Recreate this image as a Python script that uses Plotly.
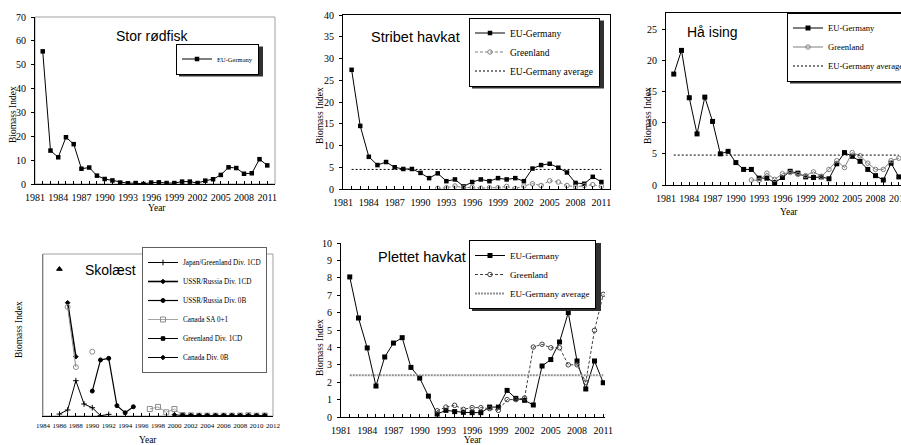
import plotly.graph_objects as go

W, H = 901, 445
SERIF = "Liberation Serif"
SANS = "Liberation Sans"

# ---------------- data ----------------
years = list(range(1982, 2012))
gl_years = list(range(1992, 2012))
avg_years = [1982, 2011]

stor_eu = [55.6, 14.0, 11.2, 19.6, 16.7, 6.4, 6.9, 3.5, 2.1, 1.5, 0.6, 0.3, 0.4, 0.0, 0.6,
           0.7, 0.4, 0.4, 1.0, 1.0, 0.4, 1.4, 2.0, 3.8, 7.0, 6.7, 4.3, 4.5, 10.4, 7.8]

strib_eu = [27.4, 14.5, 7.4, 5.5, 6.2, 5.0, 4.6, 4.6, 3.7, 2.5, 3.6, 1.8, 2.2, 0.6, 1.6,
            2.2, 1.8, 2.5, 2.2, 2.5, 1.8, 4.7, 5.5, 5.8, 4.9, 3.8, 1.4, 1.2, 2.8, 1.6]
strib_gl = [0.15, 0.3, 0.7, 0.3, 0.4, 0.2, 0.3, 0.3, 0.6, 0.1, 0.7, 1.2, 0.8, 1.9, 1.6,
            0.8, 0.5, 0.8, 1.0, 0.6]
strib_avg = 4.5

haa_eu = [17.8, 21.6, 14.0, 8.2, 14.1, 10.2, 5.0, 5.4, 3.6, 2.5, 2.5, 1.1, 1.1, 0.4, 1.2,
          2.2, 1.9, 1.3, 1.2, 1.3, 1.0, 3.4, 5.2, 4.6, 3.8, 2.5, 1.5, 0.8, 3.5, 1.3]
haa_gl = [0.8, 0.75, 1.9, 0.9, 1.8, 2.0, 1.7, 1.5, 2.1, 1.4, 2.5, 3.9, 2.8, 5.2, 4.7,
          3.5, 2.5, 2.5, 3.9, 4.3]
haa_avg = 4.8

plet_eu = [8.05, 5.69, 3.97, 1.78, 3.45, 4.25, 4.56, 2.85, 2.24, 1.2, 0.17, 0.38, 0.31, 0.27,
           0.25, 0.25, 0.57, 0.57, 1.53, 1.07, 0.96, 0.69, 2.93, 3.3, 4.31, 6.0, 3.22, 1.61,
           3.22, 1.97]
plet_gl = [0.36, 0.57, 0.67, 0.44, 0.54, 0.54, 0.48, 0.38, 1.0, 1.0, 1.09, 4.02, 4.18, 3.98,
           3.98, 3.0, 3.0, 2.0, 4.98, 7.05]
plet_avg = 2.4

# Skolæst (relative index, no scale shown)
sk_jg_years = [1986, 1987, 1988, 1989, 1990, 1991, 1992]
sk_jg = [1.2, 3.7, 21.8, 7.4, 5.1, 0.2, 1.0]
sk_ur1_years = [1987, 1988]
sk_ur1 = [69.9, 36.6]
sk_ur0_years = [1990, 1991, 1992, 1993, 1994, 1995]
sk_ur0 = [15.4, 34.6, 35.6, 6.4, 2.0, 5.7]
sk_ca_years = list(range(1997, 2012))
sk_ca = [4.3, 5.6, 2.3, 4.3, 0.6, 0.4, 0.2, 0.2, 0.2, 0.2, 0.2, 0.3, 0.5, 0.2, 0.3]
sk_gr_years = list(range(2001, 2012))
sk_gr = [0.3, 0.1, 0.1, 0.1, 0.1, 0.1, 0.1, 0.1, 0.1, 0.1, 0.1]
sk_c0_years = list(range(2000, 2012))
sk_c0 = [0.8, 0.2, 0.1, 0.1, 0.1, 0.1, 0.1, 0.1, 0.1, 0.1, 0.1, 0.1]
sk_circ_years = [1987, 1988, 1989, 1990]
sk_circ = [67.3, 30.2, None, 39.7]
sk_tri_years = [1986]
sk_tri = [90.7]

# ---------------- layout helpers ----------------
def dx(l, r):
    return [l / W, min(r / W, 1.0)]

def dy(t, b):
    return [1 - b / H, 1 - t / H]

def xax(dom, rng, anchor, tick0, dtick, mirror=False, size=10, standoff=4):
    return dict(domain=dom, range=rng, anchor=anchor, tick0=tick0, dtick=dtick,
                ticks="inside", ticklen=3, tickcolor="black", showline=True,
                linecolor="black", linewidth=1, mirror=mirror, showgrid=False,
                zeroline=False, tickangle=0,
                minor=dict(dtick=1, tick0=tick0, ticks="inside", ticklen=3, tickcolor="black"),
                tickfont=dict(family=SERIF, size=size, color="black"),
                ticklabelstandoff=standoff)

def yax(dom, rng, anchor, dtick, mirror=False, labels=True):
    return dict(domain=dom, range=rng, anchor=anchor, dtick=dtick, tick0=0,
                ticks="outside" if labels else "", ticklen=3, tickcolor="black",
                showline=True, linecolor="black", linewidth=1, mirror=mirror,
                showgrid=False, zeroline=False, showticklabels=labels,
                tickfont=dict(family=SERIF, size=10, color="black"), ticklabelstandoff=3)

fig = go.Figure()

def eu(x, y, xa, ya, lg, size=4.5):
    fig.add_trace(go.Scatter(x=x, y=y, xaxis=xa, yaxis=ya, legend=lg, name="EU-Germany",
                             mode="lines+markers", line=dict(color="black", width=1),
                             marker=dict(symbol="square", size=size, color="black")))

def gl(x, y, xa, ya, lg, color="#808080", dash="solid"):
    fig.add_trace(go.Scatter(x=x, y=y, xaxis=xa, yaxis=ya, legend=lg, name="Greenland",
                             mode="lines+markers", line=dict(color=color, width=1, dash=dash),
                             marker=dict(symbol="circle-open", size=4.5, color=color,
                                         line=dict(width=1))))

def avg(v, xa, ya, lg, color="black", width=1, dash="2px,2px"):
    fig.add_trace(go.Scatter(x=avg_years, y=[v, v], xaxis=xa, yaxis=ya, legend=lg,
                             name="EU-Germany average", mode="lines",
                             line=dict(color=color, width=width, dash=dash)))

# Chart 1: Stor rødfisk
eu(years, stor_eu, "x", "y", "legend")
# Chart 2: Stribet havkat
eu(years, strib_eu, "x2", "y2", "legend2")
gl(gl_years, strib_gl, "x2", "y2", "legend2", dash="3px,2px")
avg(strib_avg, "x2", "y2", "legend2")
# Chart 3: Hå ising
eu(years, haa_eu, "x3", "y3", "legend3", size=5)
gl(gl_years, haa_gl, "x3", "y3", "legend3")
avg(haa_avg, "x3", "y3", "legend3")
# Chart 5: Plettet havkat
eu(years, plet_eu, "x5", "y5", "legend5", size=5)
gl(gl_years, plet_gl, "x5", "y5", "legend5", color="#404040", dash="3px,2px")
avg(plet_avg, "x5", "y5", "legend5", color="#909090", width=2, dash="2px,1px")

# Chart 4: Skolæst
def sk(x, y, name, symbol, size, color="black", width=1, show=True, mode="lines+markers"):
    fig.add_trace(go.Scatter(x=x, y=y, xaxis="x4", yaxis="y4", legend="legend4", name=name,
                             mode=mode, showlegend=show, connectgaps=False,
                             line=dict(color=color, width=width),
                             marker=dict(symbol=symbol, size=size, color=color,
                                         line=dict(width=1, color=color))))

sk(sk_jg_years, sk_jg, "Japan/Greenland Div. 1CD", "cross-thin", 4, width=1)
sk(sk_ur1_years, sk_ur1, "USSR/Russia Div. 1CD", "diamond", 3.5, width=1.6)
sk(sk_ur0_years, sk_ur0, "USSR/Russia Div. 0B", "circle", 4, width=1.2)
sk(sk_ca_years, sk_ca, "Canada SA 0+1", "square-open", 5, color="#8c8c8c", width=0.8)
sk(sk_gr_years, sk_gr, "Greenland Div. 1CD", "square", 3.5)
sk(sk_c0_years, sk_c0, "Canada Div. 0B", "diamond", 3.5)
sk(sk_circ_years, sk_circ, "Canada SA 0+1 (open)", "circle-open", 5, color="#8c8c8c",
   width=1, show=False)
sk(sk_tri_years, sk_tri, "Japan/Greenland", "triangle-up", 5, show=False, mode="markers")

# ---------------- axes ----------------
lay = dict(
    xaxis=xax(dx(35, 275), [1981, 2012], "y", 1981, 3),
    yaxis=yax(dy(17, 184), [0, 70], "x", 10),
    xaxis2=xax(dx(343, 610), [1981, 2012], "y2", 1981, 3, mirror=True),
    yaxis2=yax(dy(15, 189), [0, 40], "x2", 5, mirror=True),
    xaxis3=xax(dx(666, 901), [1981, 2011.28], "y3", 1981, 3, mirror=True),
    yaxis3=yax(dy(13, 185), [0, 27.6], "x3", 5, mirror=True),
    xaxis4=xax(dx(43, 273), [1984, 2012], "y4", 1984, 2, size=7, standoff=3),
    yaxis4=yax(dy(254, 416), [0, 100], "x4", 20, labels=False),
    xaxis5=xax(dx(341, 605), [1981, 2011.2], "y5", 1981, 3),
    yaxis5=yax(dy(243, 417), [0, 10], "x5", 1),
)
lay["yaxis4"]["linecolor"] = "#808080"
lay["xaxis3"]["ticklabeloverflow"] = "allow"
lay["xaxis4"]["ticklabeloverflow"] = "allow"

def leg(left, top, size):
    return dict(x=left / W, y=1 - top / H, xanchor="left", yanchor="top", bgcolor="white",
                bordercolor="black", borderwidth=1, itemwidth=30, tracegroupgap=0,
                font=dict(family=SERIF, size=size, color="black"))

lay["legend"] = leg(176, 43.5, 6.5)
lay["legend2"] = leg(469, 17.5, 9.5)
lay["legend3"] = leg(787, 12.5, 8.6)
lay["legend4"] = leg(142, 247, 7.2)
lay["legend5"] = leg(469, 240, 9.1)
lay["legend4"]["bordercolor"] = "#606060"

# ---------------- titles & axis titles (text) ----------------
ann = []
def txt(x, y, s, size, family, angle=0):
    ann.append(dict(x=x / W, y=1 - y / H, xref="paper", yref="paper", text=s, showarrow=False,
                    xanchor="center", yanchor="middle", textangle=angle,
                    font=dict(family=family, size=size, color="black")))

txt(152, 36, "Stor rødfisk", 14, SANS)
txt(415, 37, "Stribet havkat", 14.5, SANS)
txt(712, 32, "Hå ising", 14, SANS)
txt(110, 270, "Skolæst", 14, SANS)
txt(422, 257, "Plettet havkat", 14.5, SANS)

for (x, y) in [(13, 115), (320, 116), (648, 116), (19, 330), (320, 348)]:
    txt(x, y, "Biomass Index", 9.5, SERIF, angle=-90)
for (x, y) in [(157, 208), (789, 212), (148, 440), (473, 440)]:
    txt(x, y, "Year", 9.5, SERIF)

# gray frames for charts 1 and 4, legend drop shadows
shapes = []
for xr, yr in [("x", "y"), ("x4", "y4")]:
    shapes.append(dict(type="rect", xref=f"{xr} domain", yref=f"{yr} domain", x0=0, x1=1,
                       y0=0, y1=1, line=dict(color="#a0a0a0", width=1), layer="below"))

def shadow(l, t, r, b):
    shapes.append(dict(type="rect", xref="paper", yref="paper", x0=(l + 3) / W,
                       x1=(r + 2) / W, y0=1 - (b + 2) / H, y1=1 - (t + 3) / H,
                       fillcolor="#303030", line=dict(width=0), layer="above"))

shadow(176, 43.5, 261, 74.5)
shadow(469, 17.5, 602, 86.5)
shadow(787, 12.5, 905, 81.5)
shadow(469, 240, 599, 309)

fig.update_layout(
    **lay,
    annotations=ann,
    shapes=shapes,
    width=W, height=H,
    margin=dict(l=0, r=0, t=0, b=0, autoexpand=False),
    paper_bgcolor="white", plot_bgcolor="white",
    showlegend=True,
)

fig.write_html("out.html", config={"displayModeBar": False},
               post_script="document.body.style.margin='0px';")
